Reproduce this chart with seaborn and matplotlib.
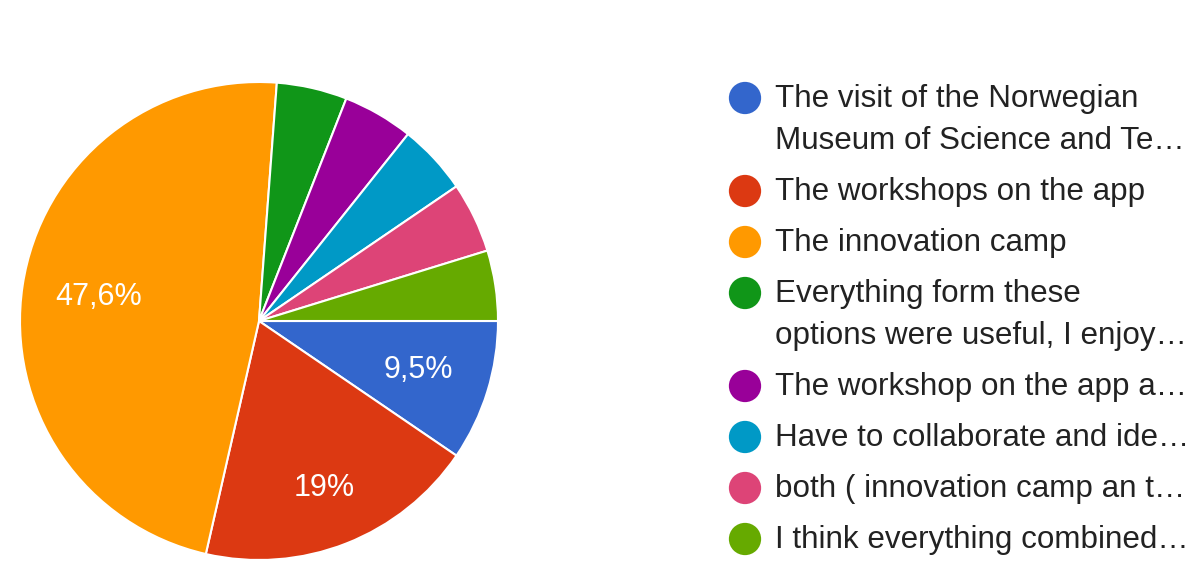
import numpy as np
import matplotlib.pyplot as plt
import seaborn as sns

labels = [
    "The visit of the Norwegian\nMuseum of Science and Te\u2026",
    "The workshops on the app",
    "The innovation camp",
    "Everything form these\noptions were useful, I enjoy\u2026",
    "The workshop on the app a\u2026",
    "Have to collaborate and ide\u2026",
    "both ( innovation camp an t\u2026",
    "I think everything combined\u2026",
]
counts = [2, 4, 10, 1, 1, 1, 1, 1]
colors = ["#3366cc", "#dc3912", "#ff9900", "#109618",
          "#990099", "#0099c6", "#dd4477", "#66aa00"]


def fmt_pct(p):
    if p < 5:
        return ""
    s = f"{p:.1f}".replace(".", ",")
    if s.endswith(",0"):
        s = s[:-2]
    return s + "%"


def plot_pie():
    sns.set_style("white")
    plt.rcParams["font.family"] = ["Liberation Sans", "DejaVu Sans"]

    W, H = 1197, 582
    fig = plt.figure(figsize=(W / 100, H / 100), dpi=100)

    cx, cy, r = 259, 321, 239
    ax = fig.add_axes([(cx - r) / W, (H - cy - r) / H, 2 * r / W, 2 * r / H])
    wedges, texts, autotexts = ax.pie(
        counts, colors=colors, startangle=0, counterclock=False,
        autopct=fmt_pct, pctdistance=0.72,
        wedgeprops=dict(edgecolor="white", linewidth=1.5),
        textprops=dict(color="white", fontsize=22))
    # label distance from centre, per slice (only the big ones are shown)
    dists = [0.70, 0.75, 0.68]
    for w, t, d in zip(wedges, autotexts, dists):
        a = np.deg2rad((w.theta1 + w.theta2) / 2)
        t.set_position((d * np.cos(a), d * np.sin(a)))
    ax.set_xlim(-1, 1)
    ax.set_ylim(-1, 1)
    ax.set_aspect("equal")
    ax.axis("off")

    # legend drawn in pixel coordinates
    lax = fig.add_axes([0, 0, 1, 1])
    lax.set_xlim(0, W)
    lax.set_ylim(H, 0)
    lax.axis("off")
    y = 98
    for lab, col in zip(labels, colors):
        lax.scatter([745], [y], s=540, color=col, edgecolors="none")
        for i, line in enumerate(lab.split("\n")):
            lax.text(775, y + i * 42 + 1, line, fontsize=22.6, color="#222222",
                     va="center", ha="left")
        y += 42 * (lab.count("\n")) + 51

    fig.savefig("out.png", dpi=100)


def main():
    return plot_pie()


if __name__ == "__main__":
    main()
